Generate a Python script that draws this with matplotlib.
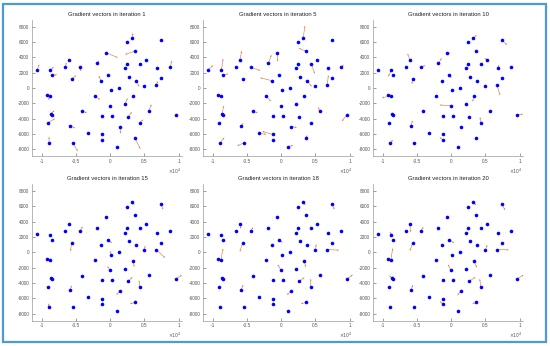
import numpy as np
import matplotlib.pyplot as plt
from matplotlib.patches import Rectangle

plt.rcParams['font.family'] = ['Liberation Sans', 'DejaVu Sans']
plt.rcParams['axes.unicode_minus'] = False

# node positions (same in every panel)
pts_x = [-10700, -8800, -8500, -6600, -6100, -5700, -4500, -9300, -8900, -8700,
         -8600, -9100, -9000, -5900, -5500, -4200, -3300, -2300, -1200, -1300,
         -1300, -1900, -600, -1400, -300, 50, 1200, -100, 300, 900,
         1400, 2100, 2600, 2100, 2400, 2700, 2400, 3200, 3600, 3300,
         3800, 4400, 5200, 5000, 3600, 4300, 5600, 6700, 6800, 7400,
         7400, 8800, 9600]
pts_y = [2400, 2300, 1650, 2700, 3700, 1200, 2700, -950, -1050, -3350,
         -3500, -4500, -7150, -4900, -7150, -3050, -5900, -1050, -3600, -6050,
         -6750, 3200, 4600, 950, 1650, -300, 50, -2300, -3650, -7650,
         -5050, -2150, -3800, 2550, 3150, 1450, 5950, 6500, 4800, -1100,
         950, 3100, 3650, 300, -6550, -4500, -3000, 350, 2550, 1250,
         6250, 2750, -3500]

iterations = [1, 5, 10, 15, 18, 20]

# gradient arrows per iteration: (node index, u, v)
grad_1 = [(0, 245, 690), (1, 490, 475), (2, 690, 85), (3, 150, 650), (6, 200, -520),
          (5, 690, 430), (8, -200, -520), (9, 490, 430), (11, 980, 520), (12, 0, 820),
          (13, 735, -345), (14, 690, -1080), (15, 785, -170), (17, 785, -475),
          (21, 245, 390), (22, 1670, -650), (23, -295, 650), (37, 100, 690),
          (38, -1470, -430), (40, 440, -780), (31, 440, 820), (30, 100, -910),
          (32, 540, 690), (44, 785, -1380), (45, 540, 390), (46, 440, 865),
          (47, 295, 560), (51, 200, 820)]
grad_5 = [(0, 686, 565), (1, 245, 1520), (2, 735, 215), (4, 290, 1130), (6, 1420, -430),
          (23, -1715, 390), (22, 50, -1170), (21, 440, 1130), (37, 245, 1610),
          (38, -1080, 390), (41, 490, -1240), (40, 640, -780), (47, 200, 1330),
          (51, 345, 300), (13, 345, 320), (12, 640, 690), (14, -980, -390),
          (15, 735, -185), (16, 1080, -140), (19, -1520, 410), (17, 785, -690),
          (9, 245, 1060), (29, 830, 185), (30, 880, -90), (44, 200, 410),
          (46, -200, 500), (52, -735, -830)]
grad_10 = [(1, -485, -830), (5, -100, -700), (4, -340, 790), (6, 680, 260),
           (21, 485, 700), (22, 435, -90), (8, -1310, -220), (24, 340, -350),
           (27, -1650, 90), (39, -200, -700), (37, 530, 390), (50, 775, -660),
           (42, -340, 260), (48, 195, 480), (47, 435, -1310), (45, -100, 700),
           (52, 920, 90), (13, 195, 660), (12, 435, 390), (20, -435, 350)]
grad_15 = [(5, -150, -1090), (6, 440, 650), (12, -100, 480), (13, 245, 565),
           (24, 535, -480), (25, -50, 480), (27, -340, 480), (39, 195, -830),
           (30, -535, -520), (32, 635, 565), (45, -100, 830), (44, -730, -175),
           (43, 100, 565), (47, 1320, -1090), (50, 340, -700), (37, 340, -350),
           (52, 880, 520)]
grad_18 = [(8, 340, 1520), (5, -390, -1130), (6, 345, 565), (4, 150, -650),
           (13, 295, 650), (24, 490, -435), (27, -440, 700), (30, -590, -520),
           (39, 295, -830), (32, 785, 520), (45, 0, 1045), (44, -735, -175),
           (43, 100, 740), (47, 1765, -90), (50, 390, -700), (37, 345, -390),
           (52, 880, 565)]
grad_20 = [(1, -245, 350), (8, 295, 1565), (9, -440, 305), (5, -390, -1045),
           (4, 100, -1130), (6, 390, 610), (13, 245, 650), (24, 685, -480),
           (27, -390, 700), (39, 440, -910), (30, -540, -565), (32, 930, 565),
           (45, -150, 1045), (44, -540, -175), (43, 245, 650), (47, 1715, -45),
           (50, 490, -780), (37, 440, -390), (52, 1030, 565), (20, -390, 350)]
grads = [grad_1, grad_5, grad_10, grad_15, grad_18, grad_20]

W, H = 550, 346
fig = plt.figure(figsize=(W / 100, H / 100), dpi=100)
fig.patches.append(Rectangle((3 / W, 4 / H), 543 / W, 338 / H, transform=fig.transFigure,
                             fill=False, edgecolor='#4f9ad6', linewidth=1.6))

lefts = [32, 203, 373]
bottoms = [1 - 156.3 / H, 1 - 320.5 / H]
xs = np.array(pts_x)
ys = np.array(pts_y)

for k, (it, g) in enumerate(zip(iterations, grads)):
    r, c = divmod(k, 3)
    ax = fig.add_axes([lefts[c] / W, bottoms[r], 150 / W, 136.6 / H])
    idx = [a[0] for a in g]
    u = [a[1] for a in g]
    v = [a[2] for a in g]
    ax.quiver(xs[idx], ys[idx], u, v, angles='xy', scale_units='xy', scale=1,
              color='#e07a45', width=0.004, headwidth=3, headlength=3.5,
              headaxislength=3, zorder=2)
    ax.plot(xs, ys, 'o', color='#0000ff', markersize=2.6, markeredgewidth=0, zorder=3)
    ax.set_xlim(-11500, 10500)
    ax.set_ylim(-8900, 8900)
    ax.set_xticks([-10000, -5000, 0, 5000, 10000])
    ax.set_xticklabels(['-1', '-0.5', '0', '0.5', '1'])
    ax.set_yticks(np.arange(-8000, 8001, 2000))
    ax.set_title(f'Gradient vectors in iteration {it}', fontsize=4.2, pad=3, color='#222222')
    ax.text(1.0, -0.075, r'$\times10^4$', transform=ax.transAxes, ha='right', va='top',
            fontsize=3.3, color='#555555')
    ax.tick_params(direction='in', length=2, width=0.4, labelsize=3.4,
                   colors='#555555', pad=2)
    for s in ['top', 'right']:
        ax.spines[s].set_visible(False)
    for s in ['left', 'bottom']:
        ax.spines[s].set_linewidth(0.5)
        ax.spines[s].set_color('#9a9a9a')

fig.savefig('out.png', dpi=100)
